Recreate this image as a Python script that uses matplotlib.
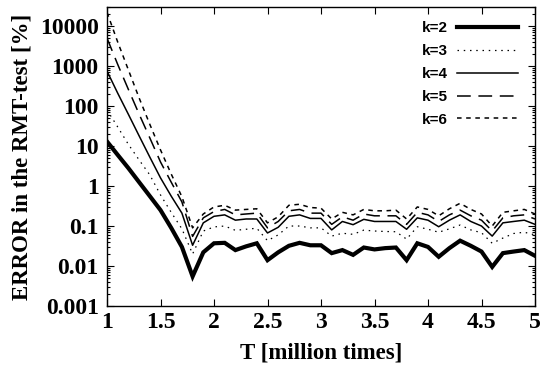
import matplotlib
matplotlib.use("Agg")
import matplotlib.pyplot as plt
from matplotlib.ticker import LogLocator, NullFormatter, FixedLocator

T = [round(1.0 + 0.1 * i, 1) for i in range(41)]

k2 = [13, 6, 2.8, 1.25, 0.56, 0.25, 0.09, 0.03, 0.0055, 0.022,
      0.037, 0.038, 0.025, 0.031, 0.037, 0.014, 0.022, 0.032, 0.038, 0.033,
      0.033, 0.021, 0.025, 0.019, 0.029, 0.026, 0.028, 0.029, 0.014, 0.037,
      0.030, 0.017, 0.028, 0.043, 0.032, 0.023, 0.0095, 0.021, 0.023, 0.025,
      0.018]
k3 = [80, 30, 11, 4.5, 1.9, 0.6, 0.22, 0.085, 0.02, 0.075,
      0.095, 0.10, 0.078, 0.083, 0.088, 0.043, 0.060, 0.10, 0.10, 0.09,
      0.09, 0.056, 0.066, 0.062, 0.079, 0.075, 0.073, 0.072, 0.047, 0.096,
      0.083, 0.070, 0.085, 0.106, 0.080, 0.068, 0.037, 0.050, 0.065, 0.070,
      0.060]
k4 = [750, 210, 62, 18, 5.3, 1.6, 0.56, 0.21, 0.033, 0.12,
      0.175, 0.19, 0.14, 0.15, 0.15, 0.067, 0.093, 0.175, 0.19, 0.155,
      0.155, 0.08, 0.13, 0.108, 0.147, 0.13, 0.13, 0.13, 0.083, 0.16,
      0.14, 0.096, 0.14, 0.19, 0.13, 0.10, 0.056, 0.12, 0.13, 0.14,
      0.11]
k5 = [5000, 1100, 260, 63, 16, 4, 1.25, 0.4, 0.055, 0.16,
      0.23, 0.26, 0.19, 0.20, 0.21, 0.09, 0.13, 0.24, 0.26, 0.21,
      0.21, 0.11, 0.17, 0.14, 0.20, 0.18, 0.18, 0.18, 0.11, 0.22,
      0.19, 0.13, 0.19, 0.25, 0.18, 0.14, 0.075, 0.16, 0.18, 0.19,
      0.15]
k6 = [22000, 4000, 800, 160, 35, 8, 2, 0.54, 0.09, 0.20,
      0.30, 0.33, 0.25, 0.26, 0.27, 0.12, 0.17, 0.33, 0.35, 0.29,
      0.28, 0.15, 0.22, 0.19, 0.26, 0.24, 0.24, 0.25, 0.15, 0.30,
      0.26, 0.18, 0.27, 0.37, 0.26, 0.20, 0.10, 0.22, 0.24, 0.26,
      0.20]

labels = ["k=2", "k=3", "k=4", "k=5", "k=6"]
xticks = [1, 1.5, 2, 2.5, 3, 3.5, 4, 4.5, 5]
xticklabels = ["1", "1.5", "2", "2.5", "3", "3.5", "4", "4.5", "5"]
yticks = [0.001, 0.01, 0.1, 1, 10, 100, 1000, 10000]
yticklabels = ["0.001", "0.01", "0.1", "1", "10", "100", "1000", "10000"]

fig = plt.figure(figsize=(5.42, 3.73), dpi=100)
ax = fig.add_axes([107/542, 67/373, 428/542, 299/373])

serif = "Liberation Serif"
sans = "Liberation Sans"

ax.plot(T, k2, color="black", lw=3.0, solid_joinstyle="miter", label=labels[0])
ax.plot(T, k3, color="black", lw=0.9, linestyle=(0, (1.2, 3.8)), label=labels[1])
ax.plot(T, k4, color="black", lw=1.1, label=labels[2])
ax.plot(T, k5, color="black", lw=1.1, linestyle=(0, (9, 5)), label=labels[3])
ax.plot(T, k6, color="black", lw=1.1, linestyle=(0, (3, 3)), label=labels[4])

ax.set_yscale("log")
ax.set_xlim(1, 5)
ax.set_ylim(0.001, 30000)

ax.xaxis.set_major_locator(FixedLocator(xticks))
ax.set_xticklabels(xticklabels, fontfamily=serif, fontweight="bold", fontsize=17)
ax.yaxis.set_major_locator(FixedLocator(yticks))
ax.set_yticklabels(yticklabels, fontfamily=serif, fontweight="bold", fontsize=17)
ax.yaxis.set_minor_locator(LogLocator(base=10, subs=range(2, 10), numticks=20))
ax.yaxis.set_minor_formatter(NullFormatter())

ax.tick_params(axis="both", which="major", direction="in", length=5, width=0.8,
               top=True, right=True)
ax.tick_params(axis="both", which="minor", direction="in", length=2.5, width=0.8,
               top=True, right=True)
ax.tick_params(axis="x", pad=4)
ax.tick_params(axis="y", pad=6)
for s in ax.spines.values():
    s.set_linewidth(1.0)

ax.set_xlabel("T [million times]", fontfamily=serif, fontweight="bold", fontsize=16.5, labelpad=7)
ax.set_ylabel("ERROR in the RMT-test [%]", fontfamily=serif, fontweight="bold", fontsize=16.5, labelpad=5)

leg = ax.legend(loc="upper right", bbox_to_anchor=(0.96, 0.952), frameon=False,
                markerfirst=False, handlelength=4.0, handletextpad=0.6,
                labelspacing=0.58, borderpad=0, borderaxespad=0,
                prop={"family": sans, "weight": "bold", "size": 11})

fig.savefig("out.png", dpi=100)
